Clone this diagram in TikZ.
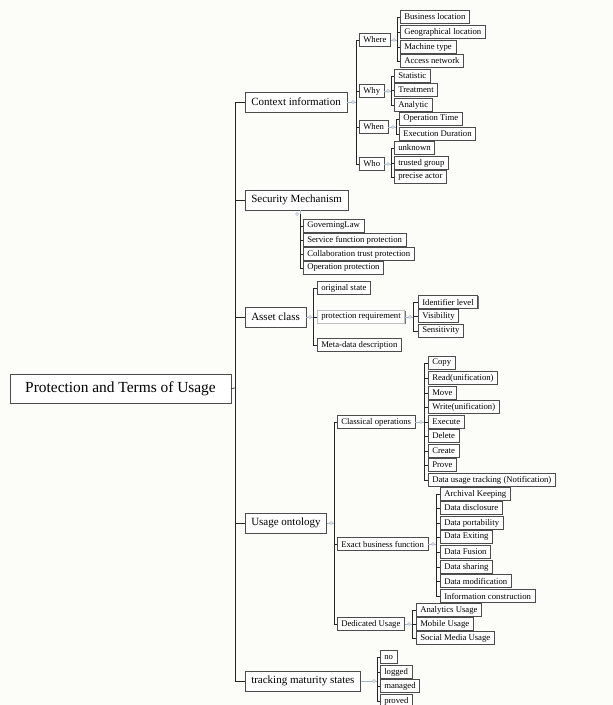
\documentclass[tikz,border=0pt]{standalone}
\usepackage{fontspec}
\setmainfont{Liberation Serif}
\usetikzlibrary{shadows}
\definecolor{bgc}{HTML}{FCFCF8}
\definecolor{hubcol}{HTML}{A8B4C8}
\tikzset{
  boxbase/.style={draw=black!70, line width=0.5pt, fill=white, anchor=west,
    drop shadow={shadow xshift=0.8pt, shadow yshift=-0.8pt, fill=black!55, opacity=1}},
  rootbox/.style={boxbase, anchor=center, font=\fontsize{15.4}{17}\selectfont, minimum width=221pt, minimum height=29pt},
  lonebox/.style={boxbase, font=\fontsize{11}{13}\selectfont, inner xsep=6pt, minimum height=20pt},
  leafbox/.style={boxbase, font=\fontsize{8.7}{10}\selectfont, inner xsep=4pt, inner ysep=1pt, minimum height=13pt},
  conn/.style={draw=black!85, line width=0.7pt},
  hubc/.style={draw=hubcol, line width=0.6pt},
  hubdot/.style={circle, draw=hubcol, fill=white, inner sep=0pt, minimum size=3pt}
}
\begin{document}
\begin{tikzpicture}[x=1pt,y=-1pt]
\fill[bgc] (0,0) rectangle (613,705);
\useasboundingbox (0,0) rectangle (613,705);

% hub coordinates
\coordinate (trunk) at (235,388);
\coordinate (ctxH) at (356,102);
\coordinate (whereH) at (397,40);
\coordinate (whyH) at (391,91);
\coordinate (whenH) at (396,127);
\coordinate (whoH) at (391,164);
\coordinate (secH) at (300,214);
\coordinate (assetH) at (313,317);
\coordinate (preqH) at (413,317);
\coordinate (usageH) at (334,523);
\coordinate (classH) at (424,422);
\coordinate (exactH) at (436,544);
\coordinate (dedH) at (412,624);
\coordinate (trackH) at (377,681);

% root
\node[rootbox] (root) at (120.5,388.5) {Protection and Terms of Usage};

% level 1
\node[lonebox] (ctx) at (245,102) {Context information};
\node[lonebox] (sec) at (245,200) {Security Mechanism};
\node[lonebox] (asset) at (245,317) {Asset class};
\node[lonebox] (usage) at (245,523) {Usage ontology};
\node[lonebox] (track) at (245,681) {tracking maturity states};

% context
\node[leafbox] (where) at (359,40) {Where};
\node[leafbox] (why) at (359,91) {Why};
\node[leafbox] (when) at (359,127) {When};
\node[leafbox] (who) at (359,164) {Who};

\node[leafbox] (bl) at (400,17) {Business location};
\node[leafbox] (gl) at (400,32) {Geographical location};
\node[leafbox] (mt) at (400,47) {Machine type};
\node[leafbox] (an) at (400,61) {Access network};

\node[leafbox] (stat) at (394,76) {Statistic};
\node[leafbox] (treat) at (394,90) {Treatment};
\node[leafbox] (analytic) at (394,105) {Analytic};

\node[leafbox] (optime) at (399,119) {Operation Time};
\node[leafbox] (exdur) at (399,134) {Execution Duration};

\node[leafbox] (unknown) at (394,148) {unknown};
\node[leafbox] (trusted) at (394,163) {trusted group};
\node[leafbox] (precise) at (394,177) {precise actor};

% security
\node[leafbox] (gov) at (303,226) {GoverningLaw};
\node[leafbox] (sfp) at (303,240) {Service function protection};
\node[leafbox] (ctp) at (303,254) {Collaboration trust protection};
\node[leafbox] (opp) at (303,268) {Operation protection};

% asset
\node[leafbox] (orig) at (317,288) {original state};
\node[leafbox, draw=black!25] (preq) at (317,317) {protection requirement};
\node[leafbox] (meta) at (317,345) {Meta-data description};

\node[leafbox] (ident) at (418,302) {Identifier level};
\node[leafbox] (vis) at (418,316) {Visibility};
\node[leafbox] (sens) at (418,331) {Sensitivity};

% usage
\node[leafbox] (classical) at (337,422) {Classical operations};
\node[leafbox] (exact) at (337,544) {Exact business function};
\node[leafbox] (ded) at (337,624) {Dedicated Usage};

\node[leafbox] (copy) at (428,363) {Copy};
\node[leafbox] (read) at (428,378) {Read(unification)};
\node[leafbox] (move) at (428,393) {Move};
\node[leafbox] (write) at (428,407) {Write(unification)};
\node[leafbox] (exec) at (428,422) {Execute};
\node[leafbox] (del) at (428,436) {Delete};
\node[leafbox] (create) at (428,451) {Create};
\node[leafbox] (prove) at (428,465) {Prove};
\node[leafbox] (dut) at (428,480) {Data usage tracking (Notification)};

\node[leafbox] (arch) at (440,494) {Archival Keeping};
\node[leafbox] (disc) at (440,508) {Data disclosure};
\node[leafbox] (port) at (440,523) {Data portability};
\node[leafbox] (exit) at (440,537) {Data Exiting};
\node[leafbox] (fusion) at (440,552) {Data Fusion};
\node[leafbox] (sharing) at (440,567) {Data sharing};
\node[leafbox] (modif) at (440,581) {Data modification};
\node[leafbox] (infoc) at (440,596) {Information construction};

\node[leafbox] (anu) at (416,610) {Analytics Usage};
\node[leafbox] (mob) at (416,624) {Mobile Usage};
\node[leafbox] (soc) at (416,638) {Social Media Usage};

% tracking
\node[leafbox] (no) at (380,657) {no};
\node[leafbox] (logged) at (380,672) {logged};
\node[leafbox] (managed) at (380,686) {managed};
\node[leafbox] (proved) at (380,701) {proved};

% connectors
\draw[conn] (root.east) -- (trunk);
\foreach \c in {ctx,sec,asset,usage,track} \draw[conn] (trunk) |- (\c.west);

\draw[hubc] (ctx.east) -- (ctxH);
\foreach \c in {where,why,when,who} \draw[conn] (ctxH) |- (\c.west);

\draw[hubc] (where.east) -- (whereH);
\foreach \c in {bl,gl,mt,an} \draw[conn] (whereH) |- (\c.west);
\draw[hubc] (why.east) -- (whyH);
\foreach \c in {stat,treat,analytic} \draw[conn] (whyH) |- (\c.west);
\draw[hubc] (when.east) -- (whenH);
\foreach \c in {optime,exdur} \draw[conn] (whenH) |- (\c.west);
\draw[hubc] (who.east) -- (whoH);
\foreach \c in {unknown,trusted,precise} \draw[conn] (whoH) |- (\c.west);

\draw[hubc] (secH |- sec.south) -- (secH);
\foreach \c in {gov,sfp,ctp,opp} \draw[conn] (secH) |- (\c.west);

\draw[hubc] (asset.east) -- (assetH);
\foreach \c in {orig,preq,meta} \draw[conn] (assetH) |- (\c.west);
\draw[hubc] (preq.east) -- (preqH);
\foreach \c in {ident,vis,sens} \draw[conn] (preqH) |- (\c.west);

\draw[hubc] (usage.east) -- (usageH);
\foreach \c in {classical,exact,ded} \draw[conn] (usageH) |- (\c.west);
\draw[hubc] (classical.east) -- (classH);
\foreach \c in {copy,read,move,write,exec,del,create,prove,dut} \draw[conn] (classH) |- (\c.west);
\draw[hubc] (exact.east) -- (exactH);
\foreach \c in {arch,disc,port,exit,fusion,sharing,modif,infoc} \draw[conn] (exactH) |- (\c.west);
\draw[hubc] (ded.east) -- (dedH);
\foreach \c in {anu,mob,soc} \draw[conn] (dedH) |- (\c.west);

\draw[hubc] (track.east) -- (trackH);
\foreach \c in {no,logged,managed,proved} \draw[conn] (trackH) |- (\c.west);

% hub dots
\foreach \h in {ctxH,whereH,whyH,whenH,whoH,secH,assetH,preqH,usageH,classH,exactH,dedH,trackH}
  \node[hubdot] at ([xshift=-3pt]\h) {};
\end{tikzpicture}
\end{document}
